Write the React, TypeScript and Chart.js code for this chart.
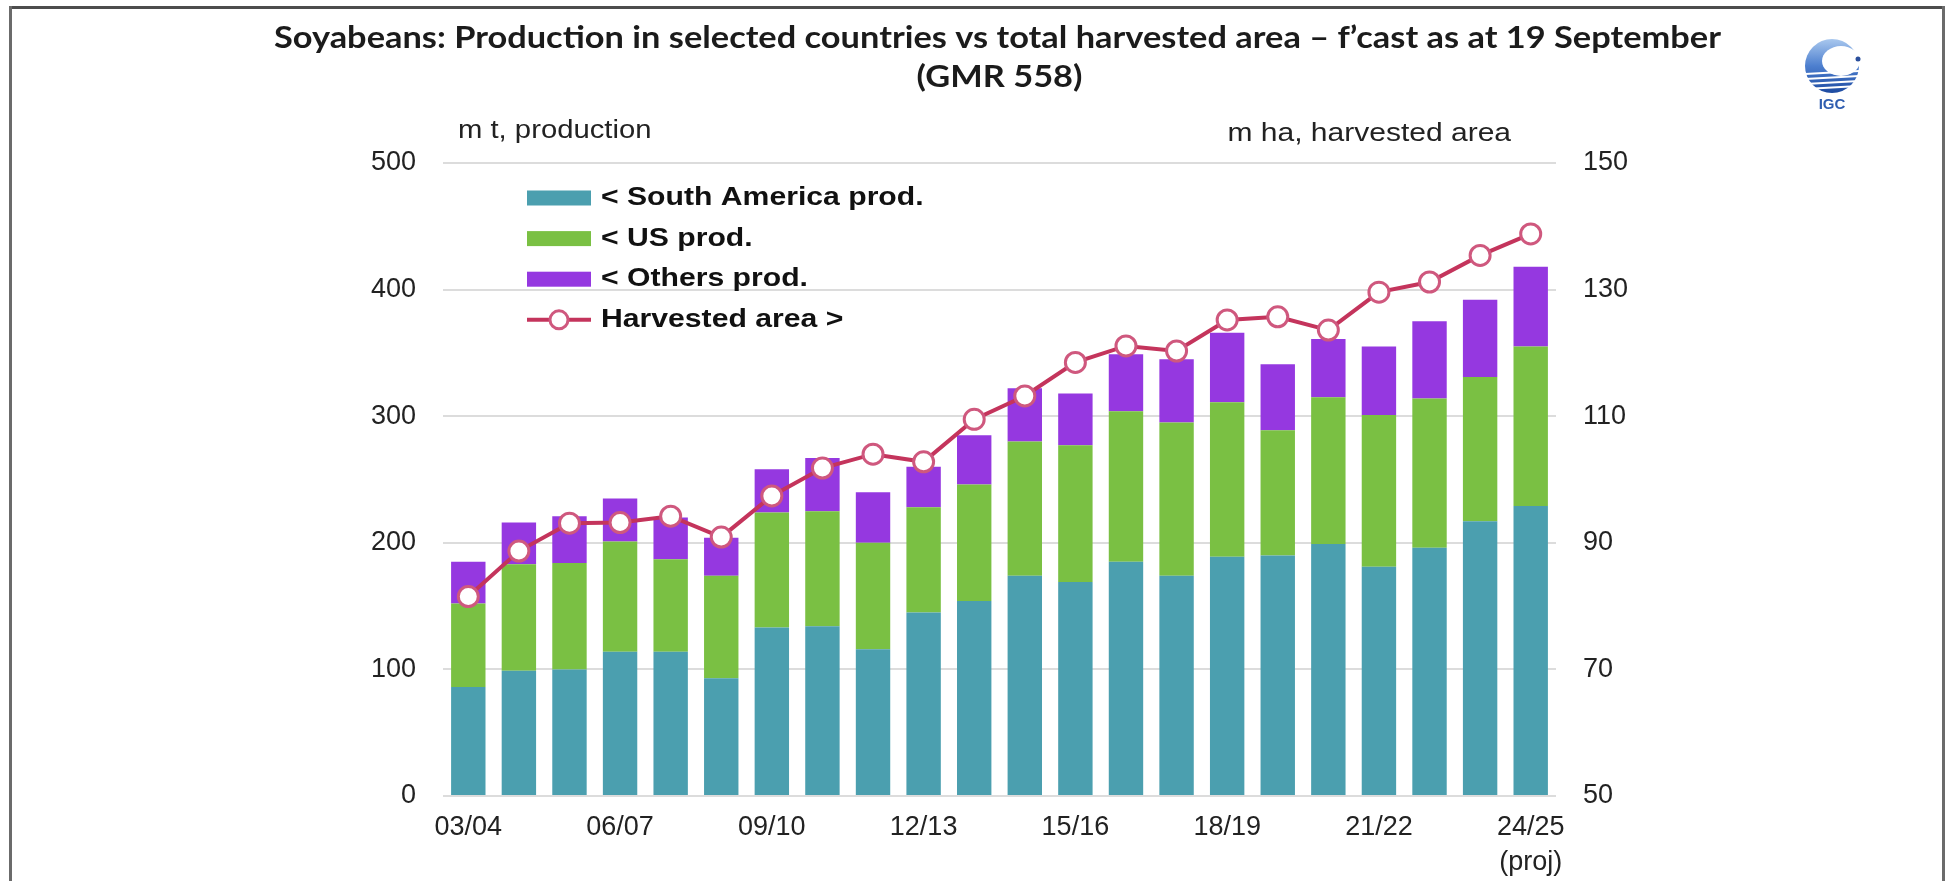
import React, { useEffect, useRef } from 'react';
import { Chart, registerables } from 'chart.js';

Chart.register(...registerables);

// ---------- data ----------
const categories: (string | string[])[] = [
  '03/04', '04/05', '05/06', '06/07', '07/08', '08/09', '09/10', '10/11', '11/12', '12/13', '13/14',
  '14/15', '15/16', '16/17', '17/18', '18/19', '19/20', '20/21', '21/22', '22/23', '23/24', ['24/25', '(proj)'],
];
const southAmericaProd = [86, 99, 100, 114, 114, 93, 133, 134, 116, 145, 154, 174, 169, 185, 174, 189, 190, 199, 181, 196, 217, 229];
const usProd = [66, 84, 84, 87, 73, 81, 91, 91, 84, 83, 92, 106, 108, 119, 121, 122, 99, 116, 120, 118, 114, 126];
const othersProd = [33, 33, 37, 34, 33, 30, 34, 42, 40, 32, 39, 42, 41, 45, 50, 55, 52, 46, 54, 61, 61, 63];
const harvestedArea = [81.5, 88.7, 93.1, 93.2, 94.2, 90.9, 97.4, 101.8, 104.0, 102.8, 109.5, 113.2, 118.5, 121.1, 120.3, 125.2, 125.7, 123.6, 129.6, 131.2, 135.4, 138.8];

const seriesLabels = ['< South America prod.', '< US prod.', '< Others prod.', 'Harvested area >'];
const titleLines = [
  'Soyabeans: Production in selected countries vs total harvested area \u2013 f\u2019cast as at 19 September',
  '(GMR 558)',
];
const leftAxisTitle = 'm t, production';
const rightAxisTitle = 'm ha, harvested area';
const logoText = 'IGC';

// ---------- styles ----------
const COLORS = {
  sa: '#4B9FAF',
  us: '#7AC043',
  others: '#9538E0',
  line: '#C4345C',
  point: '#CF587E',
  grid: '#DCDCDC',
  text: '#222222',
};
const TICK_FONT = { family: '"Liberation Sans", Arial, sans-serif', size: 27 };

function drawStretched(
  ctx: CanvasRenderingContext2D, text: string, x: number, y: number,
  font: string, color: string, align: CanvasTextAlign, sx: number,
) {
  ctx.save();
  ctx.font = font;
  ctx.fillStyle = color;
  ctx.textBaseline = 'middle';
  ctx.textAlign = align;
  ctx.translate(x, y);
  ctx.scale(sx, 1);
  ctx.fillText(text, 0, 0);
  ctx.restore();
}

const decorPlugin = {
  id: 'decor',
  beforeDraw(chart: any) {
    const ctx: CanvasRenderingContext2D = chart.ctx;
    const W = chart.width;
    const H = chart.height;
    ctx.save();
    ctx.fillStyle = '#ffffff';
    ctx.fillRect(0, 0, W, H);
    // frame
    ctx.fillStyle = '#4d4d4d';
    ctx.fillRect(9, 6, W - 14, 3);
    ctx.fillStyle = '#6b6b6b';
    ctx.fillRect(9, 6, 3, H - 6);
    ctx.fillRect(W - 8, 6, 3, H - 6);
    ctx.restore();
  },
  afterDraw(chart: any) {
    const ctx: CanvasRenderingContext2D = chart.ctx;
    const area = chart.chartArea;
    const cx = (area.left + area.right) / 2;

    // title
    ctx.save();
    const titleFont = 'bold 30px Lato, "Open Sans", sans-serif';
    ctx.font = titleFont;
    const tw = ctx.measureText(titleLines[0]).width;
    const sx = 1447 / tw;
    ctx.restore();
    drawStretched(ctx, titleLines[0], cx - 2, 38, titleFont, '#1b1b1b', 'center', sx);
    drawStretched(ctx, titleLines[1], cx, 77, titleFont, '#1b1b1b', 'center', sx);

    // axis titles
    const axFont = '25px "Liberation Sans", Arial, sans-serif';
    drawStretched(ctx, leftAxisTitle, area.left + 15, 131, axFont, COLORS.text, 'left', 1.17);
    drawStretched(ctx, rightAxisTitle, area.right - 45, 134, axFont, COLORS.text, 'right', 1.2);

    // legend (from datasets)
    const ds = chart.data.datasets;
    const lx = area.left + 84;
    const boxW = 64;
    const rowH = 40.6;
    const y0 = area.top + 35;
    const legFont = 'bold 26px "Liberation Sans", Arial, sans-serif';
    ds.forEach((d: any, i: number) => {
      const y = y0 + i * rowH;
      ctx.save();
      if (d.type === 'line') {
        ctx.strokeStyle = d.borderColor;
        ctx.lineWidth = 4;
        ctx.beginPath();
        ctx.moveTo(lx, y);
        ctx.lineTo(lx + boxW, y);
        ctx.stroke();
        ctx.beginPath();
        ctx.arc(lx + boxW / 2, y, 9, 0, Math.PI * 2);
        ctx.fillStyle = '#ffffff';
        ctx.fill();
        ctx.lineWidth = 3;
        ctx.strokeStyle = d.pointBorderColor;
        ctx.stroke();
      } else {
        ctx.fillStyle = d.backgroundColor;
        ctx.fillRect(lx, y - 7.5, boxW, 15);
      }
      ctx.restore();
      drawStretched(ctx, d.label, lx + boxW + 10, y, legFont, '#111111', 'left', 1.16);
    });

    // logo
    const gx = 1832;
    const gy = 66;
    const r = 27;
    ctx.save();
    const grad = ctx.createLinearGradient(gx, gy - r, gx, gy + r);
    grad.addColorStop(0, '#a9c8ee');
    grad.addColorStop(0.5, '#4d7fcf');
    grad.addColorStop(1, '#1d4aa0');
    ctx.fillStyle = grad;
    ctx.beginPath();
    ctx.arc(gx, gy, r, 0, Math.PI * 2);
    ctx.fill();
    ctx.fillStyle = '#ffffff';
    ctx.beginPath();
    ctx.ellipse(gx + 9, gy - 5, 19, 15, 0, 0, Math.PI * 2);
    ctx.fill();
    ctx.strokeStyle = '#ffffff';
    ctx.lineWidth = 2;
    for (let k = 0; k < 4; k++) {
      const yy = gy + 8 + k * 5;
      ctx.beginPath();
      ctx.moveTo(gx - r, yy);
      ctx.lineTo(gx + r, yy - 3);
      ctx.stroke();
    }
    ctx.fillStyle = '#2a4f9c';
    ctx.beginPath();
    ctx.arc(gx + 26, gy - 7, 2.5, 0, Math.PI * 2);
    ctx.fill();
    ctx.restore();
    drawStretched(ctx, logoText, gx, 105, 'bold 15px "Liberation Sans", Arial, sans-serif', '#2f5db0', 'center', 1);
  },
};

export default function App() {
  const canvasRef = useRef<HTMLCanvasElement | null>(null);

  useEffect(() => {
    document.body.style.margin = '0';
    const canvas = canvasRef.current;
    if (!canvas) return;
    const chart = new Chart(canvas, {
      type: 'bar',
      data: {
        labels: categories as any,
        datasets: [
          {
            type: 'bar',
            label: seriesLabels[0],
            data: southAmericaProd,
            backgroundColor: COLORS.sa,
            yAxisID: 'y',
            stack: 'prod',
            order: 1,
            barPercentage: 0.68,
            categoryPercentage: 1,
          },
          {
            type: 'bar',
            label: seriesLabels[1],
            data: usProd,
            backgroundColor: COLORS.us,
            yAxisID: 'y',
            stack: 'prod',
            order: 1,
            barPercentage: 0.68,
            categoryPercentage: 1,
          },
          {
            type: 'bar',
            label: seriesLabels[2],
            data: othersProd,
            backgroundColor: COLORS.others,
            yAxisID: 'y',
            stack: 'prod',
            order: 1,
            barPercentage: 0.68,
            categoryPercentage: 1,
          },
          {
            type: 'line',
            label: seriesLabels[3],
            data: harvestedArea,
            yAxisID: 'y1',
            borderColor: COLORS.line,
            borderWidth: 4,
            pointRadius: 10,
            pointBorderWidth: 3,
            pointBackgroundColor: '#ffffff',
            pointBorderColor: COLORS.point,
            tension: 0,
            order: 0,
          } as any,
        ],
      },
      options: {
        animation: false,
        responsive: false,
        devicePixelRatio: 1,
        layout: { padding: { top: 163, left: 0, right: 0, bottom: 0 } },
        plugins: {
          legend: { display: false },
          tooltip: { enabled: false },
          title: { display: false },
        },
        scales: {
          x: {
            stacked: true,
            offset: true,
            grid: { display: false, drawTicks: false },
            border: { display: false },
            ticks: {
              autoSkip: false,
              maxRotation: 0,
              minRotation: 0,
              padding: 14,
              color: COLORS.text,
              font: { ...TICK_FONT, lineHeight: 1.3 },
              callback: (_v: any, i: number) => (i % 3 === 0 ? (categories[i] as any) : ''),
            },
            afterFit: (scale: any) => { scale.height = 85; },
          },
          y: {
            position: 'left',
            stacked: true,
            min: 0,
            max: 500,
            ticks: { stepSize: 100, padding: 27, color: COLORS.text, font: TICK_FONT },
            grid: { color: COLORS.grid, lineWidth: 2, drawTicks: false },
            border: { display: false },
            afterFit: (scale: any) => { scale.width = 443; },
          },
          y1: {
            position: 'right',
            min: 50,
            max: 150,
            ticks: { stepSize: 20, padding: 27, color: COLORS.text, font: TICK_FONT },
            grid: { display: false, drawTicks: false },
            border: { display: false },
            afterFit: (scale: any) => { scale.width = 394; },
          },
        },
      },
      plugins: [decorPlugin],
    });
    return () => chart.destroy();
  }, []);

  return (
    <canvas
      ref={canvasRef}
      width={1950}
      height={881}
      style={{ position: 'absolute', left: 0, top: 0, width: 1950, height: 881, display: 'block' }}
    />
  );
}
